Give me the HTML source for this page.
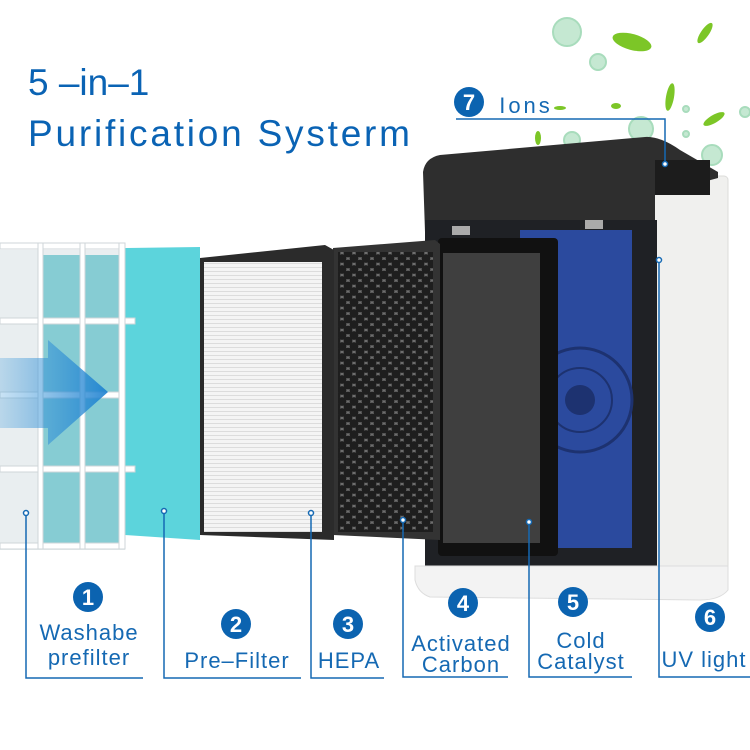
<!DOCTYPE html>
<html><head><meta charset="utf-8"><style>
html,body{margin:0;padding:0;background:#fff;}
svg{display:block}
text{font-family:"Liberation Sans",sans-serif;}
</style></head><body>
<svg width="750" height="750" viewBox="0 0 750 750" xmlns="http://www.w3.org/2000/svg">
<defs>
<pattern id="hex" width="12" height="11" patternUnits="userSpaceOnUse">
<rect width="12" height="11" fill="#6e6e6e"/>
<circle cx="6" cy="5.5" r="4.4" fill="#1e1e1e"/>
<circle cx="0" cy="0" r="4.4" fill="#1e1e1e"/><circle cx="12" cy="0" r="4.4" fill="#1e1e1e"/>
<circle cx="0" cy="11" r="4.4" fill="#1e1e1e"/><circle cx="12" cy="11" r="4.4" fill="#1e1e1e"/>
</pattern>
<pattern id="hepa" width="4" height="4" patternUnits="userSpaceOnUse">
<rect width="4" height="4" fill="#f4f4f4"/><rect y="3" width="4" height="1" fill="#dcdcdc"/>
</pattern>
<linearGradient id="arr" x1="0" x2="1"><stop offset="0" stop-color="#4aa0dc" stop-opacity="0.3"/><stop offset="1" stop-color="#1a7fd0" stop-opacity="0.9"/></linearGradient>
</defs>

<text x="28" y="95" font-size="37" fill="#0a63b4">5 –in–1</text>
<text x="28" y="146" font-size="37" fill="#0a63b4" textLength="382">Purification Systerm</text>

<g fill="#c5e8d2" stroke="#a8dcbc" stroke-width="2">
<circle cx="567" cy="32" r="14"/><circle cx="598" cy="62" r="8"/><circle cx="641" cy="129" r="12"/><circle cx="572" cy="140" r="8"/><circle cx="712" cy="155" r="10"/><circle cx="745" cy="112" r="5"/><circle cx="686" cy="109" r="3"/><circle cx="686" cy="134" r="3"/>
</g>
<g fill="#7cc627"><ellipse cx="632" cy="42" rx="20" ry="8" transform="rotate(15 632 42)"/><ellipse cx="705" cy="33" rx="4" ry="12" transform="rotate(35 705 33)"/><ellipse cx="670" cy="97" rx="4" ry="14" transform="rotate(10 670 97)"/><ellipse cx="714" cy="119" rx="12" ry="4" transform="rotate(-30 714 119)"/><ellipse cx="616" cy="106" rx="5" ry="3"/><ellipse cx="560" cy="108" rx="6" ry="2"/><ellipse cx="538" cy="138" rx="3" ry="7"/></g>

<rect x="652" y="176" width="76" height="410" rx="4" fill="#f0f0ee" stroke="#dcdcda"/>
<path d="M423 172 Q425 158 440 155 L645 137 Q660 136 680 150 L718 172 L718 178 L655 195 L655 232 L425 232 Z" fill="#2e2e2e"/>
<rect x="655" y="160" width="55" height="35" fill="#1c1c1c"/>
<rect x="425" y="220" width="232" height="370" fill="#1f2125"/>
<rect x="520" y="230" width="112" height="318" fill="#2b4a9e"/>
<circle cx="580" cy="400" r="52" fill="none" stroke="#1d3270" stroke-width="3"/>
<circle cx="580" cy="400" r="32" fill="none" stroke="#1d3270" stroke-width="2"/>
<circle cx="580" cy="400" r="15" fill="#1d3270"/>
<path d="M415 566 L728 566 L728 590 Q720 600 700 600 L430 597 Q418 593 415 580 Z" fill="#f3f3f3" stroke="#ddd"/>
<rect x="438" y="238" width="120" height="318" rx="4" fill="#111"/>
<rect x="443" y="253" width="97" height="290" fill="#3f3f3f"/>
<rect x="452" y="226" width="18" height="9" fill="#aaa"/><rect x="585" y="220" width="18" height="9" fill="#aaa"/>

<path d="M333 248 L435 240 L440 244 L440 540 L333 535 Z" fill="#333"/>
<rect x="338" y="252" width="95" height="280" fill="url(#hex)"/>

<path d="M200 258 L325 245 L334 250 L334 540 L200 535 Z" fill="#2b2b2b"/>
<rect x="204" y="262" width="118" height="270" fill="url(#hepa)"/>

<path d="M125 248 L200 247 L200 540 L125 535 Z" fill="#5cd4dc"/>

<g>
<rect x="0" y="250" width="125" height="300" fill="#e9eef0"/>
<rect x="42" y="255" width="80" height="290" fill="#5bbec6" opacity="0.7"/>
<g fill="#ffffff" stroke="#cfd6d8">
<rect x="0" y="243" width="125" height="6"/><rect x="0" y="318" width="135" height="6"/><rect x="0" y="392" width="125" height="6"/><rect x="0" y="466" width="135" height="6"/><rect x="0" y="543" width="125" height="6"/>
<rect x="38" y="243" width="5" height="306"/><rect x="80" y="243" width="5" height="306"/><rect x="119" y="243" width="6" height="306"/>
</g>
<path d="M0 358 L48 358 L48 340 L108 392 L48 445 L48 428 L0 428 Z" fill="url(#arr)"/>
</g>

<g fill="none" stroke="#1569b3" stroke-width="1.5">
<polyline points="26,515 26,678 143,678"/>
<polyline points="164,513 164,678 301,678"/>
<polyline points="311,513 311,678 384,678"/>
<polyline points="403,520 403,677 508,677"/>
<polyline points="529,522 529,677 632,677"/>
<polyline points="659,260 659,677 750,677"/>
<polyline points="456,119 665,119 665,164"/>
</g>
<g fill="#fff" stroke="#1569b3" stroke-width="1.5">
<circle cx="26" cy="513" r="2.5"/><circle cx="164" cy="511" r="2.5"/><circle cx="311" cy="513" r="2.5"/><circle cx="403" cy="520" r="2.5"/><circle cx="529" cy="522" r="2.5"/><circle cx="659" cy="260" r="2.5"/><circle cx="665" cy="164" r="2.5"/>
</g>

<g fill="#0b63b0">
<circle cx="88" cy="597" r="15"/><circle cx="236" cy="624" r="15"/><circle cx="348" cy="624" r="15"/><circle cx="463" cy="603" r="15"/><circle cx="573" cy="602" r="15"/><circle cx="710" cy="617" r="15"/><circle cx="469" cy="102" r="15"/>
</g>
<g fill="#fff" font-size="22" font-weight="bold" text-anchor="middle">
<text x="88" y="605">1</text><text x="236" y="632">2</text><text x="348" y="632">3</text><text x="463" y="611">4</text><text x="573" y="610">5</text><text x="710" y="625">6</text><text x="469" y="110">7</text>
</g>
<g fill="#1569b3" font-size="22" text-anchor="middle" letter-spacing="1">
<text x="89" y="640">Washabe</text><text x="89" y="665">prefilter</text>
<text x="237" y="668">Pre–Filter</text>
<text x="349" y="668">HEPA</text>
<text x="461" y="651">Activated</text><text x="461" y="672">Carbon</text>
<text x="581" y="648">Cold</text><text x="581" y="669">Catalyst</text>
<text x="704" y="667">UV light</text>
<text x="526" y="113" letter-spacing="3">Ions</text>
</g>
</svg>
</body></html>
